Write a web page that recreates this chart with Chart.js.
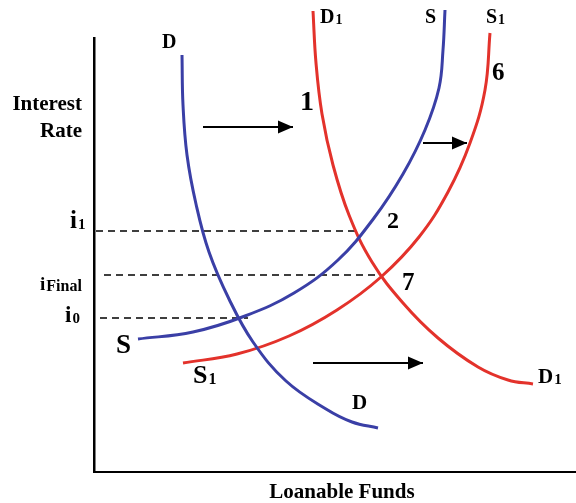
<!DOCTYPE html>
<html>
<head>
<meta charset="utf-8">
<script src="https://cdn.jsdelivr.net/npm/chart.js@4"></script>
<style>
    html, body { margin: 0; padding: 0; background: #fff; }
    #wrap { width: 576px; height: 503px; }
</style>
</head>
<body>
<div id="wrap"><canvas id="fundsChart" width="576" height="503"></canvas></div>
<script>
/*
|--------------------------------------------------------------------------
| Data (loanable funds on x, interest rate on y)
|--------------------------------------------------------------------------
*/

const demandD = [
    [88, 417], [89, 367], [93, 317], [102, 268], [115, 220], [135, 173],
    [159, 130], [192, 91], [232, 63], [258, 50], [284, 44],
];

const demandD1 = [
    [219, 461], [222, 409], [228, 358], [239, 307], [255, 257], [278, 210],
    [309, 169], [344, 134], [384, 105], [414, 92], [439, 88],
];

const supplyS = [
    [44, 133], [99, 140], [151, 156], [200, 179], [244, 212], [280, 254],
    [309, 298], [331, 342], [345, 384], [349, 422], [351, 462],
];

const supplyS1 = [
    [89, 109], [143, 118], [195, 136], [243, 162], [287, 195], [325, 235],
    [354, 280], [376, 329], [391, 382], [396, 439],
];

// interest rate levels and where their dashed guides end
const rateLevels = [241, 197, 154];
const rateGuideStart = [2, 10, 6];
const rateGuideEnd = [263, 287, 154];

// shift arrows: [fromX, toX, y]
const shiftArrows = [
    [109, 199, 345],
    [329, 373, 329],
    [219, 329, 109],
];

const BLUE = "#3a3fa6";
const RED = "#e3322b";

const toPoints = (arr) => arr.map(([x, y]) => ({ x, y }));

/*
|--------------------------------------------------------------------------
| Text labels (anchored at data coordinates, left / baseline)
|--------------------------------------------------------------------------
*/

const curveLabels = [
    { text: "D", x: 68, y: 424, size: 20 },
    { text: "D", sub: "1", x: 226, y: 449, size: 20, subSize: 14 },
    { text: "S", x: 331, y: 449, size: 20 },
    { text: "S", sub: "1", x: 392, y: 449, size: 20, subSize: 14 },
    { text: "1", x: 206, y: 362, size: 28 },
    { text: "6", x: 398, y: 392, size: 25 },
    { text: "2", x: 293, y: 244, size: 24 },
    { text: "7", x: 308, y: 182, size: 25 },
    { text: "S", x: 22, y: 119, size: 27 },
    { text: "S", sub: "1", x: 99, y: 89, size: 26, subSize: 16 },
    { text: "D", x: 258, y: 63, size: 21 },
    { text: "D", sub: "1", x: 444, y: 89, size: 21, subSize: 15 },
    { text: "i", sub: "1", x: -24, y: 244, size: 25, subSize: 15 },
    { text: "i", sub: "Final", x: -54, y: 182, size: 19, subSize: 16 },
    { text: "i", sub: "0", x: -29, y: 150, size: 23, subSize: 15 },
];

const FONT = "'Liberation Serif', 'Times New Roman', serif";

const labelPlugin = {
    id: "labels",
    afterDatasetsDraw(chart) {
        const { ctx, scales, chartArea } = chart;
        ctx.save();
        ctx.fillStyle = "#000";
        ctx.textBaseline = "alphabetic";

        // arrow heads at the end of each arrow dataset
        chart.data.datasets.forEach((ds, i) => {
            if (!ds.arrow) return;
            const pts = chart.getDatasetMeta(i).data;
            const end = pts[pts.length - 1];
            ctx.beginPath();
            ctx.moveTo(end.x, end.y);
            ctx.lineTo(end.x - 15, end.y - 6.5);
            ctx.lineTo(end.x - 15, end.y + 6.5);
            ctx.closePath();
            ctx.fill();
        });

        curveLabels.forEach((l) => {
            const px = scales.x.getPixelForValue(l.x);
            const py = scales.y.getPixelForValue(l.y);
            ctx.textAlign = "left";
            ctx.font = "bold " + l.size + "px " + FONT;
            ctx.fillText(l.text, px, py);
            if (l.sub) {
                const w = ctx.measureText(l.text).width;
                ctx.font = "bold " + l.subSize + "px " + FONT;
                ctx.fillText(l.sub, px + w + 1, py + 1);
            }
        });

        // axis titles
        ctx.font = "bold 21px " + FONT;
        ctx.textAlign = "right";
        ctx.fillText("Interest", chartArea.left - 12, 110);
        ctx.fillText("Rate", chartArea.left - 12, 137);
        ctx.textAlign = "center";
        ctx.fillText("Loanable Funds", 342, 498);

        ctx.restore();
    },
};

/*
|--------------------------------------------------------------------------
| Chart
|--------------------------------------------------------------------------
*/

const curve = (label, arr, color) => ({
    label,
    data: toPoints(arr),
    borderColor: color,
    borderWidth: 3,
    pointRadius: 0,
    tension: 0.4,
    fill: false,
    clip: false,
});

const datasets = [
    curve("D", demandD, BLUE),
    curve("S", supplyS, BLUE),
    curve("D1", demandD1, RED),
    curve("S1", supplyS1, RED),
];

rateLevels.forEach((y, i) => {
    datasets.push({
        label: "rate" + i,
        data: [
            { x: rateGuideStart[i], y },
            { x: rateGuideEnd[i], y },
        ],
        borderColor: "#000",
        borderWidth: 1.5,
        borderDash: [7, 5],
        pointRadius: 0,
        clip: false,
    });
});

shiftArrows.forEach(([x0, x1, y], i) => {
    datasets.push({
        label: "shift" + i,
        arrow: true,
        data: [
            { x: x0, y },
            { x: x1, y },
        ],
        borderColor: "#000",
        borderWidth: 2.2,
        pointRadius: 0,
        clip: false,
    });
});

new Chart(document.getElementById("fundsChart"), {
    type: "line",

    data: { datasets },

    options: {
        responsive: false,
        animation: false,
        events: [],

        layout: {
            padding: { left: 94, top: 38, right: 0, bottom: 31 },
        },

        plugins: {
            legend: { display: false },
            tooltip: { enabled: false },
        },

        scales: {
            x: {
                type: "linear",
                min: 0,
                max: 482,
                grid: { display: false, drawTicks: false },
                ticks: { display: false },
                border: { color: "#000", width: 2 },
            },

            y: {
                type: "linear",
                min: 0,
                max: 434,
                grid: { display: false, drawTicks: false },
                ticks: { display: false },
                border: { color: "#000", width: 2.5 },
            },
        },
    },

    plugins: [labelPlugin],
});
</script>
</body>
</html>
